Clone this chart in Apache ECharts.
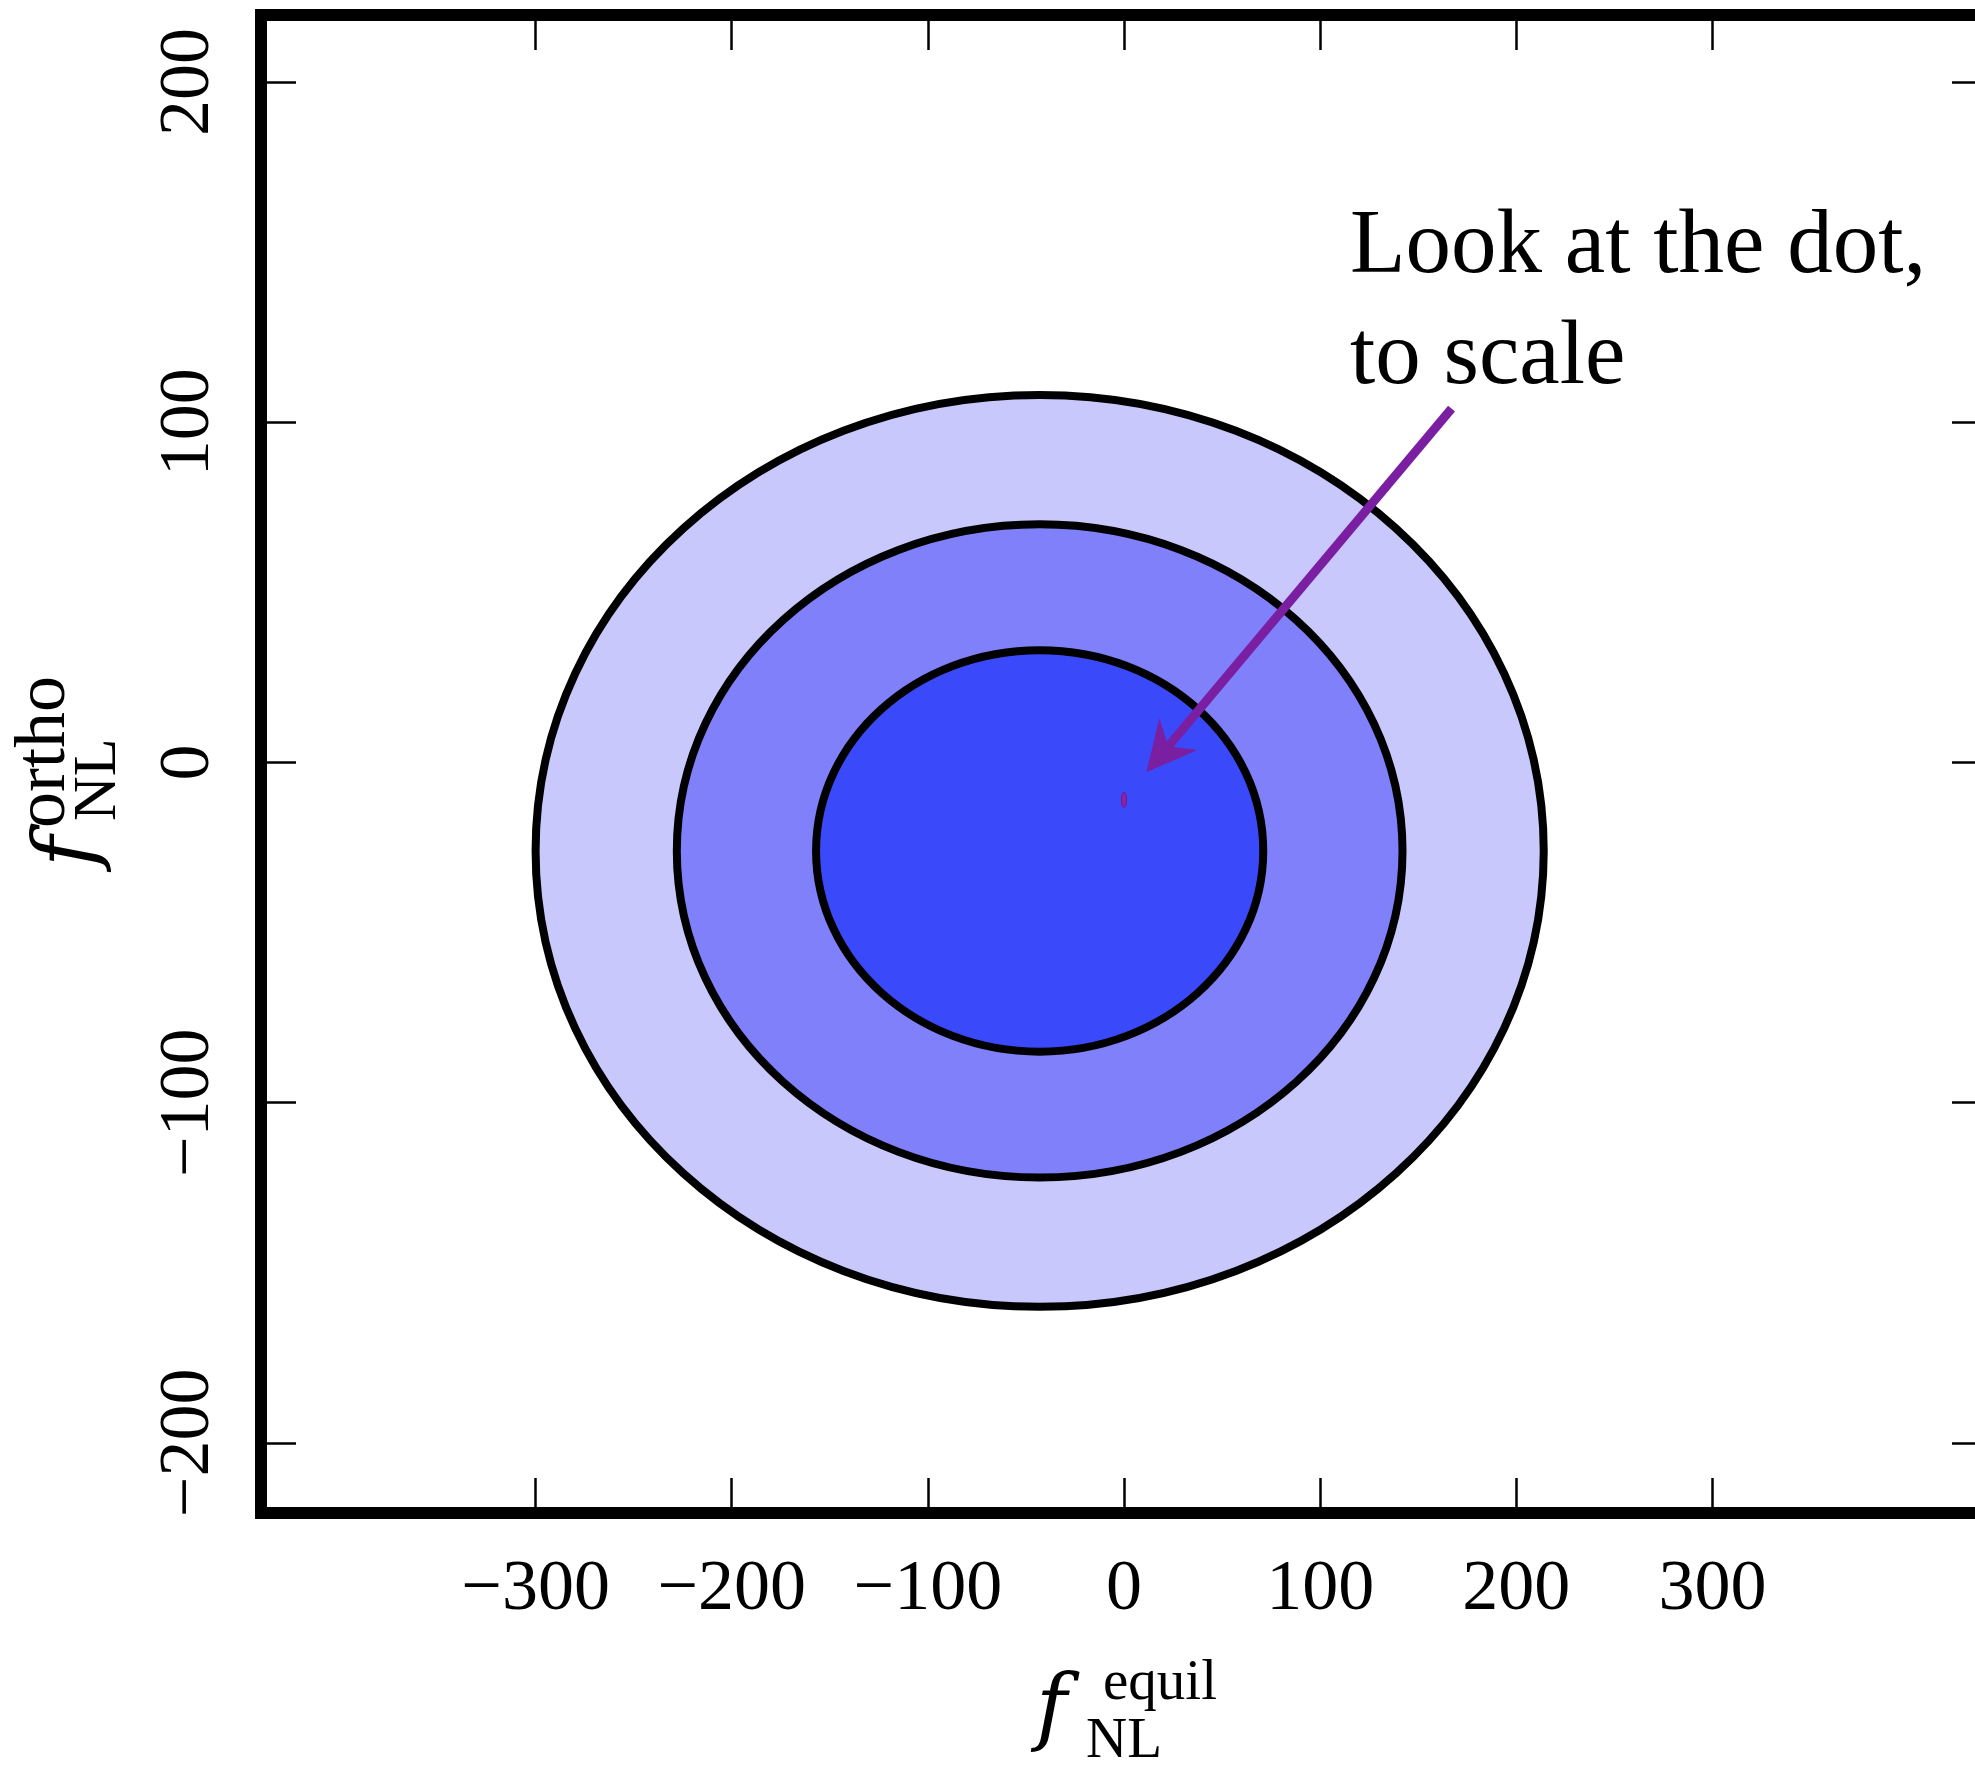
<!DOCTYPE html>
<html><head><meta charset="utf-8">
<script src="https://cdn.jsdelivr.net/npm/echarts@6/dist/echarts.min.js"></script>
<style>html,body{margin:0;padding:0;background:#fff}#c{width:1975px;height:1768px}</style>
</head><body><div id="c"></div>
<script>
// ---- data ----
const xTickValues = [-300, -200, -100, 0, 100, 200, 300];
const yTickValues = [-200, -100, 0, 100, 200];
const contourCenterX = [-43, -43, -43];
const contourCenterY = [-26, -26, -26];
const contourHalfWidth = [257, 185, 114];
const contourHalfHeight = [134, 96, 59];
const dotCenter = [0, -11];
const dotHalfSize = [1.35, 2.2];
const arrowStart = [167, 104];
const arrowEnd = [11.4, -2.9];
const annotationLines = ['Look at the dot,', 'to scale'];

// ---- styles ----
const contourFills = ['#c8c8fc', '#8080fb', '#3a4afb'];
const arrowColor = '#7b1fa2';
const serif = 'Liberation Serif';
const italicSerif = 'DejaVu Serif';

const contourData = contourCenterX.map((cx, i) => [cx, contourCenterY[i], contourHalfWidth[i], contourHalfHeight[i]]);
const dotData = [[dotCenter[0], dotCenter[1], dotHalfSize[0], dotHalfSize[1]]];
const arrowData = [[arrowStart[0], arrowStart[1], arrowEnd[0], arrowEnd[1]]];

function fmt(v) { return v < 0 ? '\u2212' + Math.abs(v) : String(v); }

const lineStyle = { color: '#000', width: 12, cap: 'square' };
const tickStyle = { color: '#000', width: 2.5 };
function xAx(pos, showLabel) {
  return {
    type: 'value', position: pos, min: -440, max: 440,
    axisLine: { show: true, onZero: false, lineStyle: lineStyle },
    axisTick: { show: true, inside: true, length: 35, lineStyle: tickStyle, customValues: xTickValues },
    axisLabel: { show: showLabel, customValues: xTickValues, margin: 41, formatter: fmt, fontFamily: serif, fontSize: 72, color: '#000' },
    splitLine: { show: false }
  };
}
function yAx(pos, showLabel) {
  return {
    type: 'value', position: pos, min: -220.6, max: 219.7,
    axisLine: { show: true, onZero: false, lineStyle: lineStyle },
    axisTick: { show: true, inside: true, length: 35, lineStyle: tickStyle, customValues: yTickValues },
    axisLabel: { show: showLabel, customValues: yTickValues, margin: 36, rotate: 90, formatter: fmt, fontFamily: serif, fontSize: 72, color: '#000' },
    splitLine: { show: false }
  };
}

function txt(text, x, y, size, opts) {
  opts = opts || {};
  return {
    type: 'text', x: x, y: y, rotation: opts.rot || 0, silent: true,
    style: {
      text: text, fill: '#000', fontFamily: opts.family || serif, fontSize: size,
      fontStyle: opts.italic ? 'italic' : 'normal',
      align: 'left', textAlign: 'left', verticalAlign: 'middle', textVerticalAlign: 'middle'
    }
  };
}

const chart = echarts.init(document.getElementById('c'), null, { renderer: 'canvas' });
chart.setOption({
  animation: false,
  backgroundColor: '#fff',
  grid: { left: 261, top: 15, width: 1726, height: 1498, outerBoundsMode: 'none', containLabel: false },
  xAxis: [xAx('bottom', true), xAx('top', false)],
  yAxis: [yAx('left', true), yAx('right', false)],
  series: [
    {
      type: 'custom', coordinateSystem: 'cartesian2d', data: contourData, clip: false,
      renderItem: function (params, api) {
        const c = api.coord([api.value(0), api.value(1)]);
        const s = api.size([api.value(2), api.value(3)]);
        return { type: 'ellipse', shape: { cx: c[0], cy: c[1], rx: s[0], ry: s[1] },
          style: { fill: contourFills[params.dataIndex], stroke: '#000', lineWidth: 8 } };
      }
    },
    {
      type: 'custom', coordinateSystem: 'cartesian2d', data: dotData, clip: false,
      renderItem: function (params, api) {
        const c = api.coord([api.value(0), api.value(1)]);
        const s = api.size([api.value(2), api.value(3)]);
        return { type: 'ellipse', shape: { cx: c[0], cy: c[1], rx: s[0], ry: s[1] },
          style: { fill: '#8a22aa', stroke: '#6e1a8c', lineWidth: 1 } };
      }
    },
    {
      type: 'custom', coordinateSystem: 'cartesian2d', data: arrowData, clip: false,
      renderItem: function (params, api) {
        const p0 = api.coord([api.value(0), api.value(1)]);
        const p1 = api.coord([api.value(2), api.value(3)]);
        let dx = p1[0] - p0[0], dy = p1[1] - p0[1];
        const len = Math.hypot(dx, dy); dx /= len; dy /= len;
        const nx = -dy, ny = dx;
        const L = 50, W = 25, notch = 34;
        const base = [p1[0] - dx * L, p1[1] - dy * L];
        const b1 = [base[0] + nx * W, base[1] + ny * W];
        const b2 = [base[0] - nx * W, base[1] - ny * W];
        const nt = [p1[0] - dx * notch, p1[1] - dy * notch];
        return { type: 'group', children: [
          { type: 'line', shape: { x1: p0[0], y1: p0[1], x2: nt[0], y2: nt[1] }, style: { stroke: arrowColor, lineWidth: 9, lineCap: 'butt' } },
          { type: 'polygon', shape: { points: [p1, b1, nt, b2] }, style: { fill: arrowColor } }
        ] };
      }
    }
  ],
  graphic: { elements: [
    txt(annotationLines[0], 1350, 248, 91),
    txt(annotationLines[1], 1350, 359, 91),
    // x title: f_NL^equil
    txt('f', 1036, 1712, 84, { italic: true, family: italicSerif }),
    txt('equil', 1103, 1684, 57),
    txt('NL', 1086, 1742, 57),
    // y title: f_NL^ortho (rotated)
    txt('f', 71, 867, 84, { italic: true, family: italicSerif, rot: Math.PI / 2 }),
    txt('ortho', 45, 828, 72, { rot: Math.PI / 2 }),
    txt('NL', 99, 821, 62, { rot: Math.PI / 2 })
  ] }
});
</script>
</body></html>
